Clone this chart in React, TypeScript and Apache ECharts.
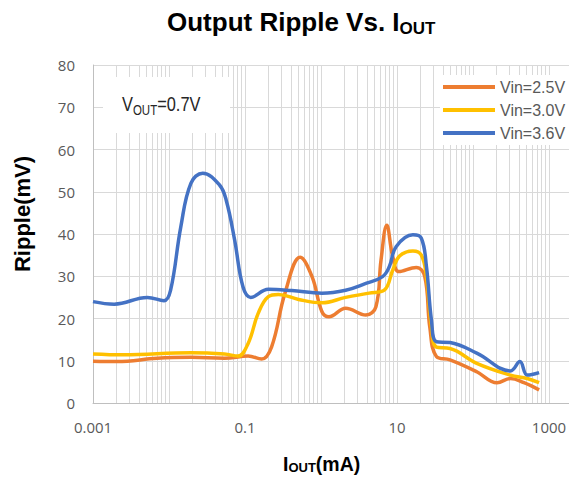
import React, { useEffect, useRef } from 'react';
import * as echarts from 'echarts';

// ---- data ----
const seriesNames = ['Vin=2.5V', 'Vin=3.0V', 'Vin=3.6V'];
const seriesColors = ['#ED7D31', '#FFC000', '#4472C4'];

const iout25 = [0.001, 0.00207, 0.007, 0.0194, 0.0537, 0.11, 0.165, 0.224, 0.336, 0.532, 0.762, 1.03, 1.27, 2.11, 3.89, 5.28, 6.16, 7.33, 8.8, 10.6, 17.9, 23.2, 27, 33, 49.8, 112, 207, 311, 468, 741];
const ripple25 = [9.9, 9.8, 10.6, 10.8, 10.6, 11.1, 10.4, 13.3, 26, 34.5, 29.9, 21.6, 20.4, 22.4, 20.8, 22.8, 33.8, 42.1, 34.6, 31.1, 32.1, 29.9, 18, 11, 10.2, 7.4, 4.8, 5.8, 4.8, 3.1];

const iout30 = [0.001, 0.0025, 0.0194, 0.0537, 0.081, 0.11, 0.149, 0.203, 0.275, 0.507, 1.03, 2.11, 4.3, 6.8, 8.8, 10.8, 16.2, 20.9, 24.4, 28.4, 33, 49.8, 112, 311, 518, 741];
const ripple30 = [11.6, 11.4, 11.9, 11.6, 11.1, 14.1, 21.2, 25.2, 25.7, 24.5, 23.7, 25, 26, 26.7, 31.5, 34.8, 36, 35, 29.9, 18, 13.2, 12.9, 9.4, 6.6, 5.8, 4.8];

const iout36 = [0.001, 0.0019, 0.0052, 0.0086, 0.0105, 0.0143, 0.0194, 0.0278, 0.0462, 0.0566, 0.073, 0.094, 0.119, 0.203, 0.413, 1.03, 2.11, 3.89, 6.46, 7.94, 9.73, 16.2, 20.9, 24.4, 28.4, 33, 49.8, 112, 311, 414, 518, 741];
const ripple36 = [24.0, 23.4, 25.0, 24.2, 26.7, 41.7, 52, 54.4, 51.6, 48, 38.6, 27.5, 25.0, 26.9, 26.6, 26.0, 26.7, 28.3, 29.9, 32.3, 37, 39.8, 39, 32.3, 19.6, 14.5, 14.3, 11.8, 7.6, 9.8, 6.6, 7.2];

const xTickLabels = ['0.001', '0.1', '10', '1000'];
const xMin = 0.001;
const xMax = 10000;
const yMin = 0;
const yMax = 80;
const yStep = 10;

const titleMain = 'Output Ripple Vs. I';
const titleSub = 'OUT';
const xNameMain = 'I';
const xNameSub = 'OUT';
const xNameTail = '(mA)';
const yName = 'Ripple(mV)';
const noteMain = 'V';
const noteSub = 'OUT';
const noteTail = '=0.7V';

const SANS = '"Liberation Sans", Arial, sans-serif';
const LABEL = '"Open Sans", sans-serif';

export default function App() {
  const ref = useRef<HTMLDivElement>(null);
  useEffect(() => {
    if (!ref.current) return;
    const chart = echarts.init(ref.current, null, { renderer: 'svg' });
    const pairs = (xs: number[], ys: number[]) => xs.map((x, i) => [x, ys[i]]);
    const allData = [pairs(iout25, ripple25), pairs(iout30, ripple30), pairs(iout36, ripple36)];

    chart.setOption({
      animation: false,
      backgroundColor: '#ffffff',
      grid: { left: 93, top: 65, bottom: 74, right: -56, containLabel: false, outerBoundsMode: 'none' },
      legend: {
        orient: 'vertical',
        left: 440,
        top: 75,
        padding: [4, 40, 4, 3],
        itemWidth: 52,
        itemHeight: 4,
        itemGap: 7,
        icon: 'rect',
        backgroundColor: '#ffffff',
        data: seriesNames,
        textStyle: { fontFamily: SANS, fontSize: 16, lineHeight: 16, color: '#595959' },
      },
      xAxis: {
        type: 'log',
        logBase: 10,
        min: xMin,
        max: xMax,
        splitNumber: 7,
        axisLine: { show: true, lineStyle: { color: '#bfbfbf', width: 1 } },
        axisTick: { show: false },
        axisLabel: {
          margin: 16,
          fontFamily: LABEL,
          fontSize: 15,
          color: '#595959',
          formatter: (v: number) => {
            const lv = Math.log10(v);
            const hit = xTickLabels.find((l) => Math.abs(Math.log10(parseFloat(l)) - lv) < 1e-6);
            return hit ?? '';
          },
        },
        splitLine: { show: true, lineStyle: { color: '#d9d9d9', width: 1 } },
        minorTick: { show: false, splitNumber: 9 },
        minorSplitLine: { show: true, lineStyle: { color: '#d9d9d9', width: 1 } },
      },
      yAxis: {
        type: 'value',
        min: yMin,
        max: yMax,
        interval: yStep,
        axisLine: { show: true, lineStyle: { color: '#bfbfbf', width: 1 } },
        axisTick: { show: false },
        axisLabel: { margin: 18, fontFamily: LABEL, fontSize: 15, color: '#595959' },
        splitLine: { show: true, lineStyle: { color: '#d9d9d9', width: 1 } },
      },
      series: seriesNames.map((name, i) => ({
        name,
        type: 'line',
        data: allData[i],
        smooth: 0.4,
        symbol: 'none',
        color: seriesColors[i],
        lineStyle: { width: 3.5, color: seriesColors[i] },
        z: 3 + i,
      })),
      graphic: [
        {
          type: 'text',
          z: 10,
          style: {
            x: 167,
            y: 9,
            text: `{m|${titleMain}}{s|${titleSub}}`,
            verticalAlign: 'top',
            rich: {
              m: { fontFamily: SANS, fontWeight: 'bold', fontSize: 26, lineHeight: 30, verticalAlign: 'top', fill: '#000', color: '#000' },
              s: { fontFamily: SANS, fontWeight: 'bold', fontSize: 17, lineHeight: 30, padding: [11, 0, 0, 0], verticalAlign: 'top', fill: '#000', color: '#000' },
            },
          },
        },
        {
          type: 'text',
          z: 10,
          style: {
            x: 283,
            y: 454,
            text: `{m|${xNameMain}}{s|${xNameSub}}{m|${xNameTail}}`,
            verticalAlign: 'top',
            rich: {
              m: { fontFamily: SANS, fontWeight: 'bold', fontSize: 19.5, lineHeight: 22, verticalAlign: 'top', fill: '#000', color: '#000' },
              s: { fontFamily: SANS, fontWeight: 'bold', fontSize: 13, lineHeight: 22, padding: [7, 0, 0, 0], verticalAlign: 'top', fill: '#000', color: '#000' },
            },
          },
        },
        {
          type: 'text',
          z: 10,
          x: 22,
          y: 214,
          rotation: Math.PI / 2,
          style: {
            x: 0,
            y: 0,
            text: yName,
            align: 'center',
            verticalAlign: 'middle',
            fontFamily: SANS,
            fontWeight: 'bold',
            fontSize: 22,
            fill: '#000',
          },
        },
        {
          type: 'rect',
          z: 8,
          shape: { x: 103, y: 77, width: 127, height: 56 },
          style: { fill: '#ffffff' },
        },
        {
          type: 'text',
          z: 10,
          x: 122,
          y: 94,
          scaleX: 0.82,
          style: {
            x: 0,
            y: 0,
            text: `{m|${noteMain}}{s|${noteSub}}{m|${noteTail}}`,
            verticalAlign: 'top',
            rich: {
              m: { fontFamily: SANS, fontSize: 20, lineHeight: 22, verticalAlign: 'top', fill: '#262626', color: '#262626' },
              s: { fontFamily: SANS, fontSize: 14, lineHeight: 22, padding: [9, 0, 0, 0], verticalAlign: 'top', fill: '#262626', color: '#262626' },
            },
          },
        },
      ],
    });
    return () => chart.dispose();
  }, []);
  return <div ref={ref} style={{ position: 'fixed', left: 0, top: 0, width: 569, height: 477 }} />;
}
